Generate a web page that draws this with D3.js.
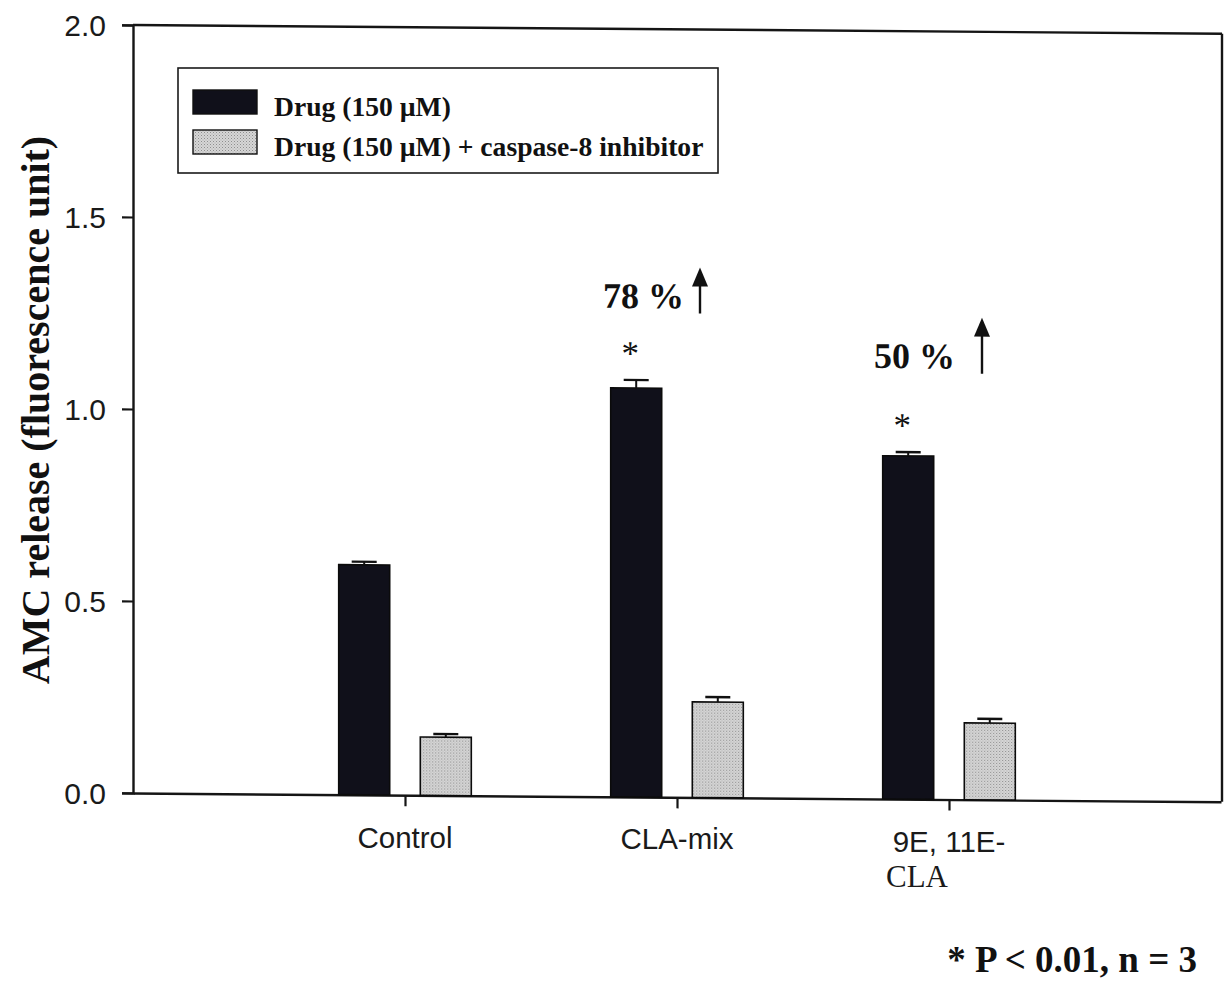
<!DOCTYPE html>
<html>
<head>
<meta charset="utf-8">
<script src="https://cdn.jsdelivr.net/npm/d3@7"></script>
<style>
  html, body { margin: 0; padding: 0; background: #fff; }
  svg { display: block; }
</style>
</head>
<body>
<svg id="chart" width="1226" height="987"></svg>
<script>
// Caspase-8 activity (AMC release) — means and upper error bars
const categories = ["Control", "CLA-mix", "9E, 11E-CLA"];
const drugValues = [0.599, 1.065, 0.894];
const drugErrors = [0.008, 0.021, 0.010];
const inhibValues = [0.152, 0.249, 0.200];
const inhibErrors = [0.008, 0.013, 0.011];
const seriesNames = ["Drug (150 \u00B5M)", "Drug (150 \u00B5M) + caspase-8 inhibitor"];
const yTicks = [0, 0.5, 1.0, 1.5, 2.0];
const significant = [false, true, true];
const increaseLabels = [null, "78 %", "50 %"];

(function () {
const svg = d3.select("#chart");
const plotLeft = 133, plotRight = 1221, plotTop = 25, plotBottom = 793;

// category positions sit at 1, 2, 3 on a 0..4 axis
const x = d3.scaleLinear().domain([0, 4]).range([plotLeft, plotRight]);
const y = d3.scaleLinear().domain([0, 2]).range([plotBottom, plotTop]);
const barW = x(0.1875) - x(0);
const off = 0.15;

const defs = svg.append("defs");
const pat = defs.append("pattern")
  .attr("id", "dots").attr("width", 3).attr("height", 3)
  .attr("patternUnits", "userSpaceOnUse");
pat.append("rect").attr("width", 3).attr("height", 3).attr("fill", "#d6d6d6");
pat.append("rect").attr("x", 0).attr("y", 0).attr("width", 1).attr("height", 1).attr("fill", "#8e8e8e");
pat.append("rect").attr("x", 1.5).attr("y", 1.5).attr("width", 1).attr("height", 1).attr("fill", "#a8a8a8");

// the plotting frame is very slightly sheared
const plot = svg.append("g")
  .attr("transform", `translate(${plotLeft},0) skewY(0.46) translate(${-plotLeft},0)`);

const ink = "#151515";

// frame (top and right sides)
plot.append("line").attr("x1", plotLeft).attr("x2", plotRight + 1).attr("y1", plotTop).attr("y2", plotTop)
  .attr("stroke", ink).attr("stroke-width", 2.4);
plot.append("line").attr("x1", plotRight + 1).attr("x2", plotRight + 1).attr("y1", plotTop).attr("y2", plotBottom)
  .attr("stroke", ink).attr("stroke-width", 2.4);

// y axis
const yAxis = d3.axisLeft(y).tickValues(yTicks).tickSize(11).tickFormat("");
const gy = plot.append("g").attr("transform", `translate(${plotLeft},0)`).call(yAxis);
gy.select(".domain").attr("stroke", ink).attr("stroke-width", 2.4);
gy.selectAll(".tick line").attr("stroke", ink).attr("stroke-width", 2.2);

// x axis
const xAxis = d3.axisBottom(x).tickValues([1, 2, 3]).tickSize(11).tickSizeOuter(0).tickFormat("");
const gx = plot.append("g").attr("transform", `translate(0,${plotBottom})`).call(xAxis);
gx.select(".domain").attr("stroke", ink).attr("stroke-width", 2.4);
gx.selectAll(".tick line").attr("stroke", ink).attr("stroke-width", 2.2);

// bars
const rows = categories.map((c, i) => ({
  i, drug: drugValues[i], dErr: drugErrors[i], inh: inhibValues[i], iErr: inhibErrors[i]
}));

function drawSeries(key, errKey, shift, fill) {
  const g = plot.append("g");
  g.selectAll("rect").data(rows).join("rect")
    .attr("x", d => x(d.i + 1 + shift) - barW / 2)
    .attr("y", d => y(d[key]))
    .attr("width", barW)
    .attr("height", d => y(0) - y(d[key]))
    .attr("fill", fill)
    .attr("stroke", "#0b0b0b")
    .attr("stroke-width", 1.6);
  // upper error bars
  g.selectAll("line.err").data(rows).join("line")
    .attr("class", "err")
    .attr("x1", d => x(d.i + 1 + shift)).attr("x2", d => x(d.i + 1 + shift))
    .attr("y1", d => y(d[key])).attr("y2", d => y(d[key] + d[errKey]))
    .attr("stroke", "#111").attr("stroke-width", 2);
  g.selectAll("line.cap").data(rows).join("line")
    .attr("class", "cap")
    .attr("x1", d => x(d.i + 1 + shift) - 12.5).attr("x2", d => x(d.i + 1 + shift) + 12.5)
    .attr("y1", d => y(d[key] + d[errKey])).attr("y2", d => y(d[key] + d[errKey]))
    .attr("stroke", "#111").attr("stroke-width", 2.4);
}
drawSeries("drug", "dErr", -off, "#10101a");
drawSeries("inh", "iErr", off, "url(#dots)");

// significance stars above the drug bars
plot.append("g").selectAll("text").data(rows.filter(d => significant[d.i])).join("text")
  .attr("x", d => x(d.i + 1 - off) - 6)
  .attr("y", d => y(d.drug + d.dErr) - 15)
  .attr("text-anchor", "middle")
  .attr("font-family", "Liberation Serif, Times New Roman, serif")
  .attr("font-size", 35)
  .attr("fill", "#111")
  .text("*");

// percentage increase labels with up arrows
const incLayout = [null, { dx: 7, dy: -72, ax: 23, tip: -113, base: -67 },
                         { dx: 6, dy: -84, ax: 33, tip: -135, base: -79 }];
rows.forEach(d => {
  const lab = increaseLabels[d.i];
  if (!lab) return;
  const L = incLayout[d.i];
  const cx = x(d.i + 1);
  const cy = y(d.drug + d.dErr);
  plot.append("text")
    .attr("x", cx + L.dx).attr("y", cy + L.dy)
    .attr("text-anchor", "end")
    .attr("font-family", "Liberation Serif, Times New Roman, serif")
    .attr("font-weight", "bold")
    .attr("font-size", 36)
    .attr("fill", "#111")
    .text(lab);
  const axp = cx + L.ax;
  plot.append("line")
    .attr("x1", axp).attr("x2", axp)
    .attr("y1", cy + L.base).attr("y2", cy + L.tip + 14)
    .attr("stroke", "#111").attr("stroke-width", 2.4);
  plot.append("path")
    .attr("d", `M${axp},${cy + L.tip} L${axp - 8},${cy + L.tip + 19} L${axp + 8},${cy + L.tip + 19} Z`)
    .attr("fill", "#111");
});

// y tick labels
svg.append("g").selectAll("text").data(yTicks).join("text")
  .attr("x", 106)
  .attr("y", d => y(d) + 10.5)
  .attr("text-anchor", "end")
  .attr("font-family", "Liberation Sans, Arial, sans-serif")
  .attr("font-size", 30)
  .attr("fill", "#1a1a1a")
  .text(d => d.toFixed(1));

// category labels
const sans = "Liberation Sans, Arial, sans-serif";
svg.append("text").attr("x", x(1)).attr("y", 848).attr("text-anchor", "middle")
  .attr("font-family", sans).attr("font-size", 29.5).attr("fill", "#1a1a1a").text(categories[0]);
svg.append("text").attr("x", x(2)).attr("y", 849).attr("text-anchor", "middle")
  .attr("font-family", sans).attr("font-size", 29.5).attr("fill", "#1a1a1a").text(categories[1]);
svg.append("text").attr("x", x(3)).attr("y", 852).attr("text-anchor", "middle")
  .attr("font-family", sans).attr("font-size", 29.5).attr("fill", "#1a1a1a").text("9E, 11E-");
svg.append("text").attr("x", x(3) - 63).attr("y", 887).attr("text-anchor", "start")
  .attr("font-family", "Liberation Serif, Times New Roman, serif").attr("font-size", 31)
  .attr("fill", "#1a1a1a").text("CLA");

// y axis title
svg.append("text")
  .attr("transform", "translate(49,410) rotate(-90)")
  .attr("text-anchor", "middle")
  .attr("font-family", "Liberation Serif, Times New Roman, serif")
  .attr("font-weight", "bold")
  .attr("font-size", 40)
  .attr("fill", "#111")
  .text("AMC release (fluorescence unit)");

// legend
const lg = svg.append("g");
lg.append("rect").attr("x", 178).attr("y", 68).attr("width", 540).attr("height", 105)
  .attr("fill", "#fff").attr("stroke", "#1a1a1a").attr("stroke-width", 1.6);
const legendFills = ["#10101a", "url(#dots)"];
seriesNames.forEach((name, i) => {
  lg.append("rect").attr("x", 193).attr("y", 90 + i * 40).attr("width", 64).attr("height", 24)
    .attr("fill", legendFills[i]).attr("stroke", "#111").attr("stroke-width", 1.4);
  lg.append("text").attr("x", 274).attr("y", 116 + i * 40)
    .attr("font-family", "Liberation Serif, Times New Roman, serif")
    .attr("font-weight", "bold").attr("font-size", 27.6).attr("fill", "#111")
    .text(name);
});

// footnote
svg.append("text").attr("x", 1197).attr("y", 972).attr("text-anchor", "end")
  .attr("font-family", "Liberation Serif, Times New Roman, serif")
  .attr("font-weight", "bold").attr("font-size", 37).attr("fill", "#111")
  .text("* P < 0.01, n = 3");
})();
</script>
</body>
</html>
